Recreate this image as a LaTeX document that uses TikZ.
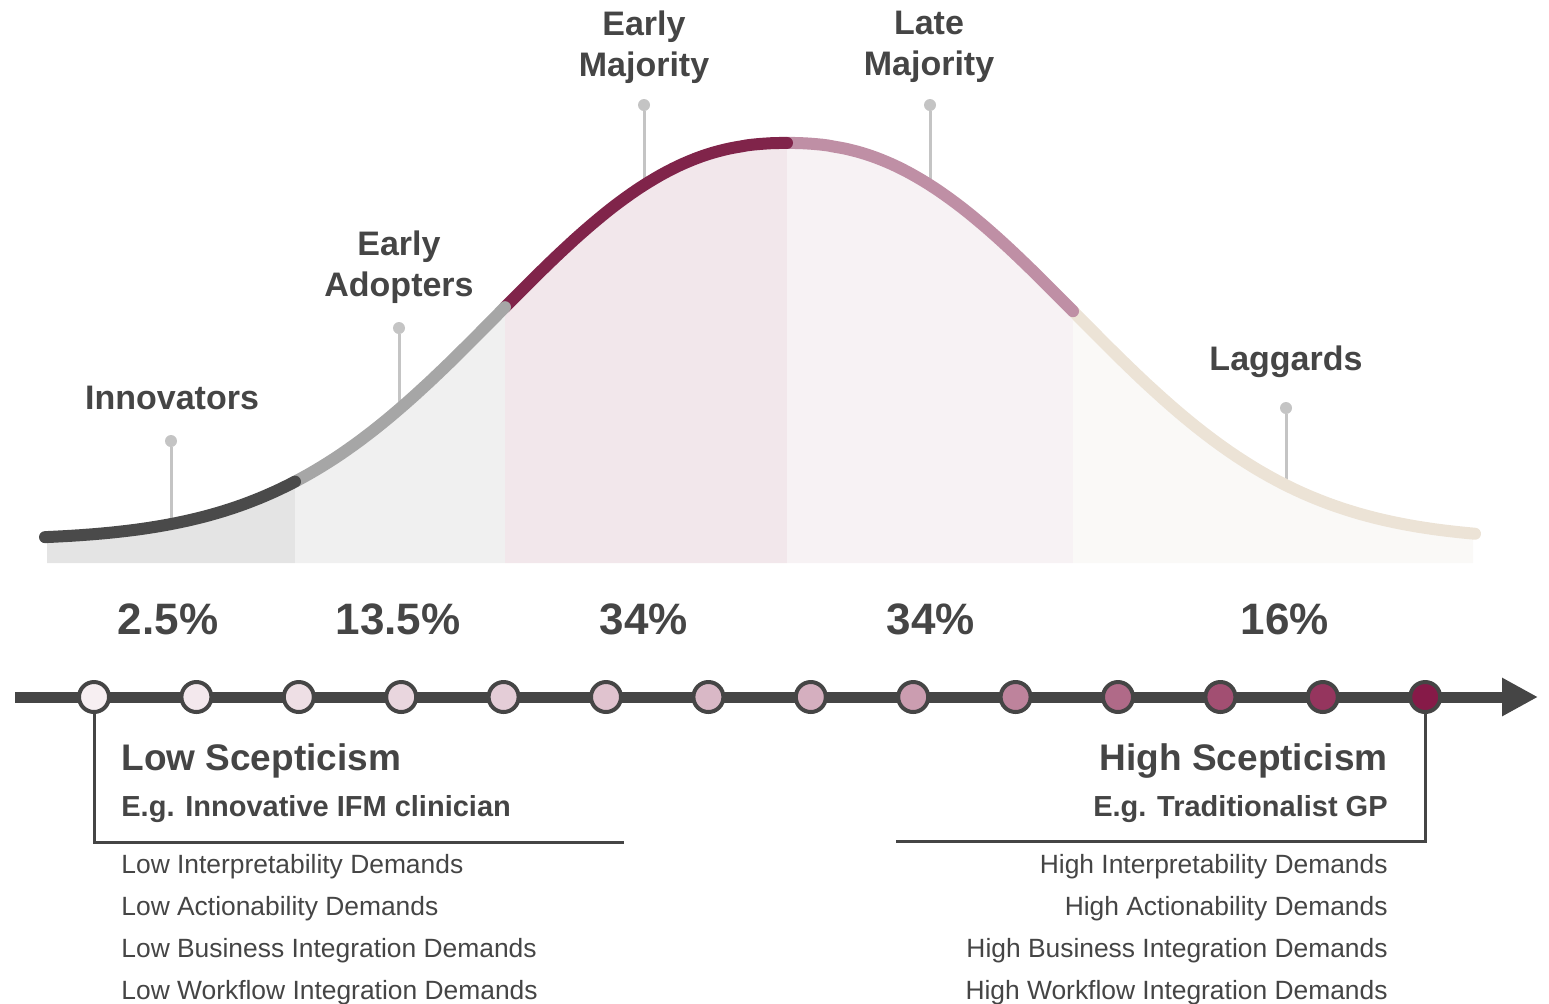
\documentclass[tikz,border=0pt]{standalone}
\usepackage{fontspec}
\setmainfont{Liberation Sans}
\usepackage{xcolor}
\usepackage{tikz}
\usetikzlibrary{arrows.meta}

\definecolor{inkgray}{HTML}{454545}
\definecolor{leadgray}{HTML}{C4C4C4}
\definecolor{innC}{HTML}{4A4A4A}
\definecolor{adoptC}{HTML}{A6A6A6}
\definecolor{earlyC}{HTML}{80244A}
\definecolor{lateC}{HTML}{BF8FA5}
\definecolor{lagC}{HTML}{ECE3D6}
\definecolor{fillA}{HTML}{E4E4E4}
\definecolor{fillB}{HTML}{F0F0F0}
\definecolor{fillC}{HTML}{F2E7EB}
\definecolor{fillD}{HTML}{F7F2F4}
\definecolor{fillE}{HTML}{FAF9F7}
\definecolor{scept}{HTML}{861A48}

\begin{document}
\begin{tikzpicture}[
  x=0.5pt, y=-0.5pt,
  declare function={bell(\t)=540-397*exp(-1*pow(abs(\t-787)/371+0.001,2.3));},
  seg/.style={line width=6pt, line cap=round, draw=#1},
  leader/.style={line width=1.5pt, draw=leadgray},
  pindot/.style={circle, fill=leadgray, minimum size=6pt, inner sep=0pt},
  grouplabel/.style={align=center, text=inkgray, inner sep=0pt, font=\bfseries\fontsize{17}{20.5}\selectfont},
  share/.style={text=inkgray, inner sep=0pt, font=\bfseries\fontsize{22}{26}\selectfont},
  stage/.style={circle, draw=inkgray, line width=2pt, minimum size=15pt, inner sep=0pt, fill=scept!#1!white},
  axis/.style={line width=5.5pt, draw=inkgray, -{Triangle[length=18pt, width=18pt]}},
  bracket/.style={line width=1.5pt, draw=inkgray},
  headtxt/.style={text=inkgray, inner sep=0pt, font=\bfseries\fontsize{18.5}{22}\selectfont},
  subtxt/.style={text=inkgray, inner sep=0pt, font=\bfseries\fontsize{14.5}{17}\selectfont},
  demand/.style={text=inkgray, inner sep=0pt, font=\fontsize{13.2}{16}\selectfont}
]
  \useasboundingbox (0,0) rectangle (1549,1003);

  % ===== AREAS UNDER THE CURVE =====
  \fill[fillA] (47,563) -- plot[domain=47:295, samples=40] (\x,{bell(\x)}) -- (295,563) -- cycle;
  \fill[fillB] (295,563) -- plot[domain=295:505, samples=40] (\x,{bell(\x)}) -- (505,563) -- cycle;
  \fill[fillC] (505,563) -- plot[domain=505:787, samples=40] (\x,{bell(\x)}) -- (787,563) -- cycle;
  \fill[fillD] (787,563) -- plot[domain=787:1073, samples=40] (\x,{bell(\x)}) -- (1073,563) -- cycle;
  \fill[fillE] (1073,563) -- plot[domain=1073:1473, samples=40] (\x,{bell(\x)}) -- (1473,563) -- cycle;

  % ===== LEADERS =====
  \node[pindot] (inn-dot) at (171,441) {};
  \node[pindot] (adopt-dot) at (399,328) {};
  \node[pindot] (early-dot) at (644,105) {};
  \node[pindot] (late-dot) at (930,105) {};
  \node[pindot] (lag-dot) at (1286,408) {};
  \coordinate (inn-foot) at (171,{bell(171)});
  \coordinate (adopt-foot) at (399,{bell(399)});
  \coordinate (early-foot) at (644,{bell(644)});
  \coordinate (late-foot) at (930,{bell(930)});
  \coordinate (lag-foot) at (1286,{bell(1286)});
  \draw[leader] (inn-dot) -- (inn-foot);
  \draw[leader] (adopt-dot) -- (adopt-foot);
  \draw[leader] (early-dot) -- (early-foot);
  \draw[leader] (late-dot) -- (late-foot);
  \draw[leader] (lag-dot) -- (lag-foot);

  % ===== CURVE =====
  \draw[seg=lagC] plot[domain=1073:1475, samples=50] (\x,{bell(\x)});
  \draw[seg=lateC] plot[domain=787:1073, samples=50] (\x,{bell(\x)});
  \draw[seg=earlyC] plot[domain=505:787, samples=50] (\x,{bell(\x)});
  \draw[seg=adoptC] plot[domain=295:505, samples=50] (\x,{bell(\x)});
  \draw[seg=innC] plot[domain=45:295, samples=50] (\x,{bell(\x)});

  % group names
  \node[grouplabel] (inn-label) at (172,398) {Innovators};
  \node[grouplabel] (adopt-label) at (399,267) {Early\\Adopters};
  \node[grouplabel] (early-label) at (644,47) {Early\\Majority};
  \node[grouplabel] (late-label) at (929,47) {Late\\Majority};
  \node[grouplabel] (lag-label) at (1286,362) {Laggards};

  % shares
  \node[share] (inn-share) at (168,619) {2.5\%};
  \node[share] (adopt-share) at (398,619) {13.5\%};
  \node[share] (early-share) at (644,619) {34\%};
  \node[share] (late-share) at (931,619) {34\%};
  \node[share] (lag-share) at (1285,619) {16\%};

  % ===== SCEPTICISM AXIS =====
  \coordinate (ax-start) at (15,697);
  \coordinate (ax-end) at (1538,697);
  \draw[axis] (ax-start) -- (ax-end);

  \node[stage=7] (s1) at (94,697) {};
  \node[stage=10] (s2) at (196.4,697) {};
  \node[stage=14] (s3) at (298.8,697) {};
  \node[stage=18] (s4) at (401.2,697) {};
  \node[stage=22] (s5) at (503.6,697) {};
  \node[stage=26] (s6) at (606,697) {};
  \node[stage=31] (s7) at (708.4,697) {};
  \node[stage=35] (s8) at (810.8,697) {};
  \node[stage=43] (s9) at (913.2,697) {};
  \node[stage=54] (s10) at (1015.6,697) {};
  \node[stage=65] (s11) at (1118,697) {};
  \node[stage=77] (s12) at (1220.4,697) {};
  \node[stage=88] (s13) at (1322.8,697) {};
  \node[stage=100] (s14) at (1425.2,697) {};

  % brackets
  \coordinate (low-end) at (624,842);
  \coordinate (high-end) at (896,841);
  \draw[bracket] (s1.south) |- (low-end);
  \draw[bracket] (s14.south) |- (high-end);

  % low side
  \node[headtxt, anchor=base west] (low-head) at (121,770) {Low Scepticism};
  \node[subtxt, anchor=base west] (low-sub) at (121,816) {E.g. Innovative IFM clinician};
  \node[demand, anchor=base west] (low-d1) at (121,873) {Low Interpretability Demands};
  \node[demand, anchor=base west] (low-d2) at (121,915) {Low Actionability Demands};
  \node[demand, anchor=base west] (low-d3) at (121,957) {Low Business Integration Demands};
  \node[demand, anchor=base west] (low-d4) at (121,999) {Low Workflow Integration Demands};

  % high side
  \node[headtxt, anchor=base east] (high-head) at (1388,770) {High Scepticism};
  \node[subtxt, anchor=base east] (high-sub) at (1388,816) {E.g. Traditionalist GP};
  \node[demand, anchor=base east] (high-d1) at (1388,873) {High Interpretability Demands};
  \node[demand, anchor=base east] (high-d2) at (1388,915) {High Actionability Demands};
  \node[demand, anchor=base east] (high-d3) at (1388,957) {High Business Integration Demands};
  \node[demand, anchor=base east] (high-d4) at (1388,999) {High Workflow Integration Demands};
\end{tikzpicture}
\end{document}
